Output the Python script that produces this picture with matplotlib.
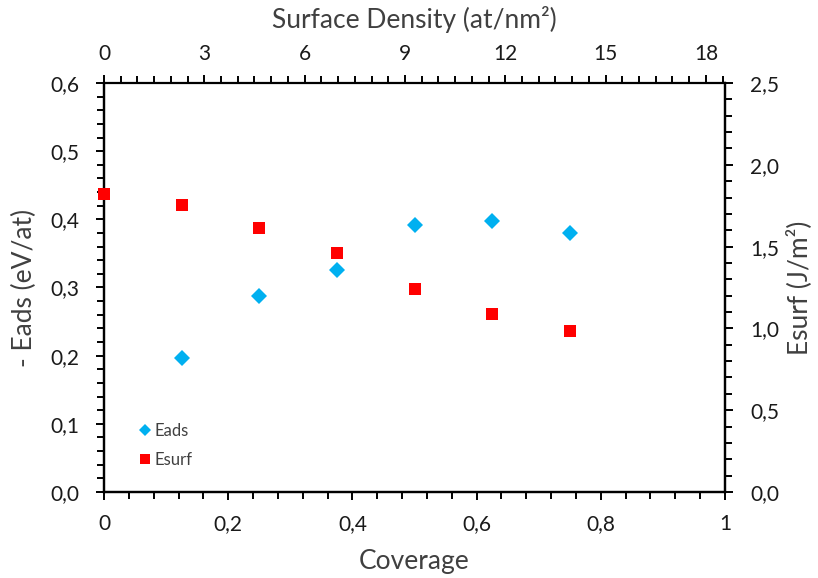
import matplotlib
matplotlib.use("Agg")
import matplotlib.pyplot as plt
from matplotlib.ticker import MultipleLocator, FuncFormatter
from matplotlib.lines import Line2D

plt.rcParams['font.family'] = ['Lato', 'DejaVu Sans']

coverage = [0.0, 0.125, 0.25, 0.375, 0.5, 0.625, 0.75]
eads_cov = [0.125, 0.25, 0.375, 0.5, 0.625, 0.75]
eads = [0.197, 0.288, 0.326, 0.392, 0.398, 0.380]
esurf = [1.821, 1.752, 1.612, 1.459, 1.241, 1.086, 0.984]
density_max = 18.57

fig = plt.figure(figsize=(8.18, 5.78), dpi=100)
ax = fig.add_axes([104/818, 1-492/578, (725-104)/818, (492-83)/578])
ax2 = ax.twinx()

ax.plot(eads_cov, eads, linestyle='none', marker='D', markersize=8,
        color='#00B0F0', markeredgewidth=0, label='Eads', clip_on=False, zorder=3)
ax2.plot(coverage, esurf, linestyle='none', marker='s', markersize=8,
         color='#FF0000', markeredgewidth=0, label='Esurf', clip_on=False, zorder=3)

ax.set_xlim(0, 1)
ax.set_ylim(0, 0.6)
ax2.set_ylim(0, 2.5)

def comma(fmt):
    return FuncFormatter(lambda v, p: (fmt.format(v)).replace('.', ','))

ax.xaxis.set_major_locator(MultipleLocator(0.2))
ax.xaxis.set_minor_locator(MultipleLocator(0.04))
ax.xaxis.set_major_formatter(FuncFormatter(lambda v, p: ('{:g}'.format(round(v, 2))).replace('.', ',')))
ax.yaxis.set_major_locator(MultipleLocator(0.1))
ax.yaxis.set_minor_locator(MultipleLocator(0.02))
ax.yaxis.set_major_formatter(comma('{:.1f}'))
ax2.yaxis.set_major_locator(MultipleLocator(0.5))
ax2.yaxis.set_minor_locator(MultipleLocator(0.1))
ax2.yaxis.set_major_formatter(comma('{:.1f}'))

secx = ax.secondary_xaxis('top', functions=(lambda x: x*density_max, lambda x: x/density_max))
secx.xaxis.set_major_locator(MultipleLocator(3))
secx.xaxis.set_minor_locator(MultipleLocator(0.5))

tick_color = '#1a1a1a'
lab_color = '#404040'
for a in (ax, ax2):
    for s in a.spines.values():
        s.set_linewidth(1.6)
        s.set_color('black')
ax.spines['top'].set_visible(False)
ax2.spines['top'].set_visible(False)
for s in secx.spines.values():
    s.set_linewidth(1.6)

ax.tick_params(axis='x', which='both', direction='out', width=1.4, labelsize=15,
               labelcolor=tick_color, pad=10)
ax.tick_params(axis='y', which='both', direction='out', width=1.4, labelsize=15,
               labelcolor=tick_color, pad=12)
ax.tick_params(which='major', length=6)
ax.tick_params(which='minor', length=5)
ax2.tick_params(axis='y', which='both', direction='out', width=1.4, labelsize=15,
                labelcolor=tick_color, pad=12)
ax2.tick_params(which='major', length=6)
ax2.tick_params(which='minor', length=5)
secx.tick_params(axis='x', which='both', direction='out', width=1.4, labelsize=15,
                 labelcolor=tick_color, pad=8)
secx.tick_params(which='major', length=6)
secx.tick_params(which='minor', length=5)

ax.set_xlabel('Coverage', fontsize=19, color=lab_color, labelpad=11)
ax.set_ylabel('- Eads (eV/at)', fontsize=19, color=lab_color, labelpad=9)
ax2.set_ylabel('Esurf (J/m²)', fontsize=19, color=lab_color, labelpad=5, rotation=90)
secx.set_xlabel('Surface Density (at/nm²)', fontsize=19, color=lab_color, labelpad=11)

handles = [Line2D([], [], linestyle='none', marker='D', markersize=6.5, color='#00B0F0', markeredgewidth=0),
           Line2D([], [], linestyle='none', marker='s', markersize=7.5, color='#FF0000', markeredgewidth=0)]
leg = ax.legend(handles, ['Eads', 'Esurf'], loc='upper left', bbox_to_anchor=(0.047, 0.185),
                frameon=False, fontsize=12, handlelength=0.6, handletextpad=0.3,
                labelspacing=0.75, borderaxespad=0)
for t in leg.get_texts():
    t.set_color(lab_color)

fig.savefig('out.png', dpi=100)
